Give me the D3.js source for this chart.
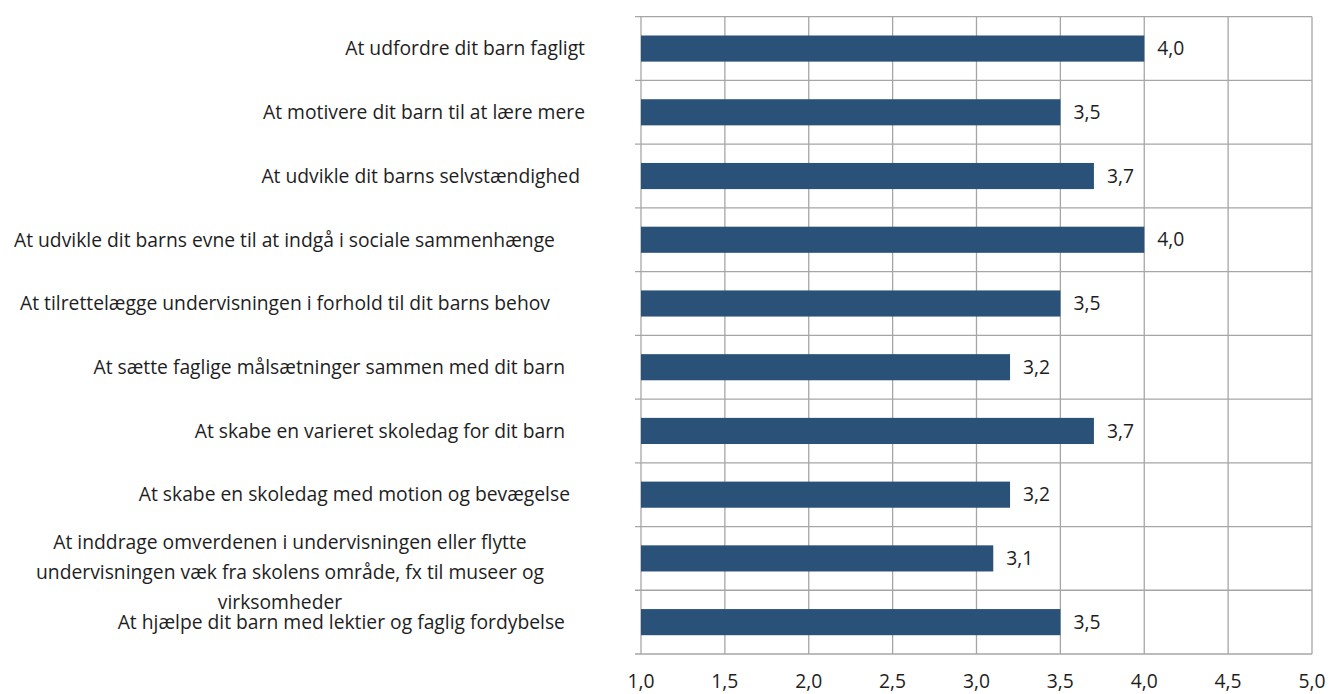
<!DOCTYPE html>
<html>
<head>
<meta charset="utf-8">
<script src="https://cdn.jsdelivr.net/npm/d3@7"></script>
<style>
  html, body { margin: 0; padding: 0; background: #fff; }
  svg text { font-family: "Open Sans", "Noto Sans", sans-serif; fill: #1e1e1e; }
  .cat { white-space: pre; }
</style>
</head>
<body>
<div id="chart"></div>
<script>
// kategorier (efterstillede mellemrum som i det oprindelige regneark)
const categories = [
  ["At udfordre dit barn fagligt"],
  ["At motivere dit barn til at lære mere"],
  ["At udvikle dit barns selvstændighed "],
  ["At udvikle dit barns evne til at indgå i sociale sammenhænge      "],
  ["At tilrettelægge undervisningen i forhold til dit barns behov       "],
  ["At sætte faglige målsætninger sammen med dit barn    "],
  ["At skabe en varieret skoledag for dit barn    "],
  ["At skabe en skoledag med motion og bevægelse   "],
  ["At inddrage omverdenen i undervisningen eller flytte",
   "undervisningen væk fra skolens område, fx til museer og",
   "virksomheder    "],
  ["At hjælpe dit barn med lektier og faglig fordybelse    "]
];
const values = [4.0, 3.5, 3.7, 4.0, 3.5, 3.2, 3.7, 3.2, 3.1, 3.5];
const xTicks = [1.0, 1.5, 2.0, 2.5, 3.0, 3.5, 4.0, 4.5, 5.0];

const width = 1335, height = 694;
const margin = { top: 16.7, right: 23, bottom: 40, left: 641 };
const w = width - margin.left - margin.right;
const h = height - margin.top - margin.bottom;
const fs = '19.3px';

const svg = d3.select('#chart').append('svg').attr('width', width).attr('height', height);
const g = svg.append('g').attr('transform', `translate(${margin.left},${margin.top})`);

const x = d3.scaleLinear().domain([1, 5]).range([0, w]);
const y = d3.scaleBand().domain(d3.range(categories.length)).range([0, h]).padding(0);
const barH = y.bandwidth() * 0.41;
const fmt = v => d3.format('.1f')(v).replace('.', ',');
const gridColor = '#a6a6a6';

// lodrette gitterlinjer
g.selectAll('line.vgrid').data(xTicks).join('line')
  .attr('class', 'vgrid')
  .attr('x1', d => x(d)).attr('x2', d => x(d))
  .attr('y1', 0).attr('y2', h)
  .attr('stroke', gridColor).attr('stroke-width', 1.3);

// vandrette linjer ved kategorigrænser (med små tick-streger til venstre)
const bounds = d3.range(categories.length + 1).map(i => i === categories.length ? h : y(i));
g.selectAll('line.hgrid').data(bounds).join('line')
  .attr('class', 'hgrid')
  .attr('x1', -6).attr('x2', w)
  .attr('y1', d => d).attr('y2', d => d)
  .attr('stroke', gridColor).attr('stroke-width', 1.3);

// x-akse tal
g.selectAll('text.xtick').data(xTicks).join('text')
  .attr('class', 'xtick')
  .attr('x', d => x(d)).attr('y', h + 27)
  .attr('dy', '0.35em')
  .attr('text-anchor', 'middle')
  .style('font-size', fs)
  .text(fmt);

// søjler
g.selectAll('rect.bar').data(values).join('rect')
  .attr('class', 'bar')
  .attr('x', x(1))
  .attr('y', (d, i) => y(i) + (y.bandwidth() - barH) / 2)
  .attr('width', d => x(d) - x(1))
  .attr('height', barH)
  .attr('fill', '#2a5279');

// værdier
g.selectAll('text.value').data(values).join('text')
  .attr('class', 'value')
  .attr('x', d => x(d) + 13)
  .attr('y', (d, i) => y(i) + y.bandwidth() / 2)
  .attr('dy', '0.35em')
  .style('font-size', fs)
  .text(fmt);

// kategoritekster
const lineH = 30;
categories.forEach((lines, i) => {
  const cy = y(i) + y.bandwidth() / 2;
  const multi = lines.length > 1;
  const t = svg.append('text')
    .attr('class', 'cat')
    .style('font-size', fs)
    .attr('text-anchor', multi ? 'middle' : 'end');
  lines.forEach((ln, j) => {
    t.append('tspan')
      .attr('x', multi ? 290 : 585)
      .attr('y', margin.top + cy + (multi ? -16 + j * lineH : 0))
      .attr('dy', '0.35em')
      .text(ln);
  });
});
</script>
</body>
</html>
